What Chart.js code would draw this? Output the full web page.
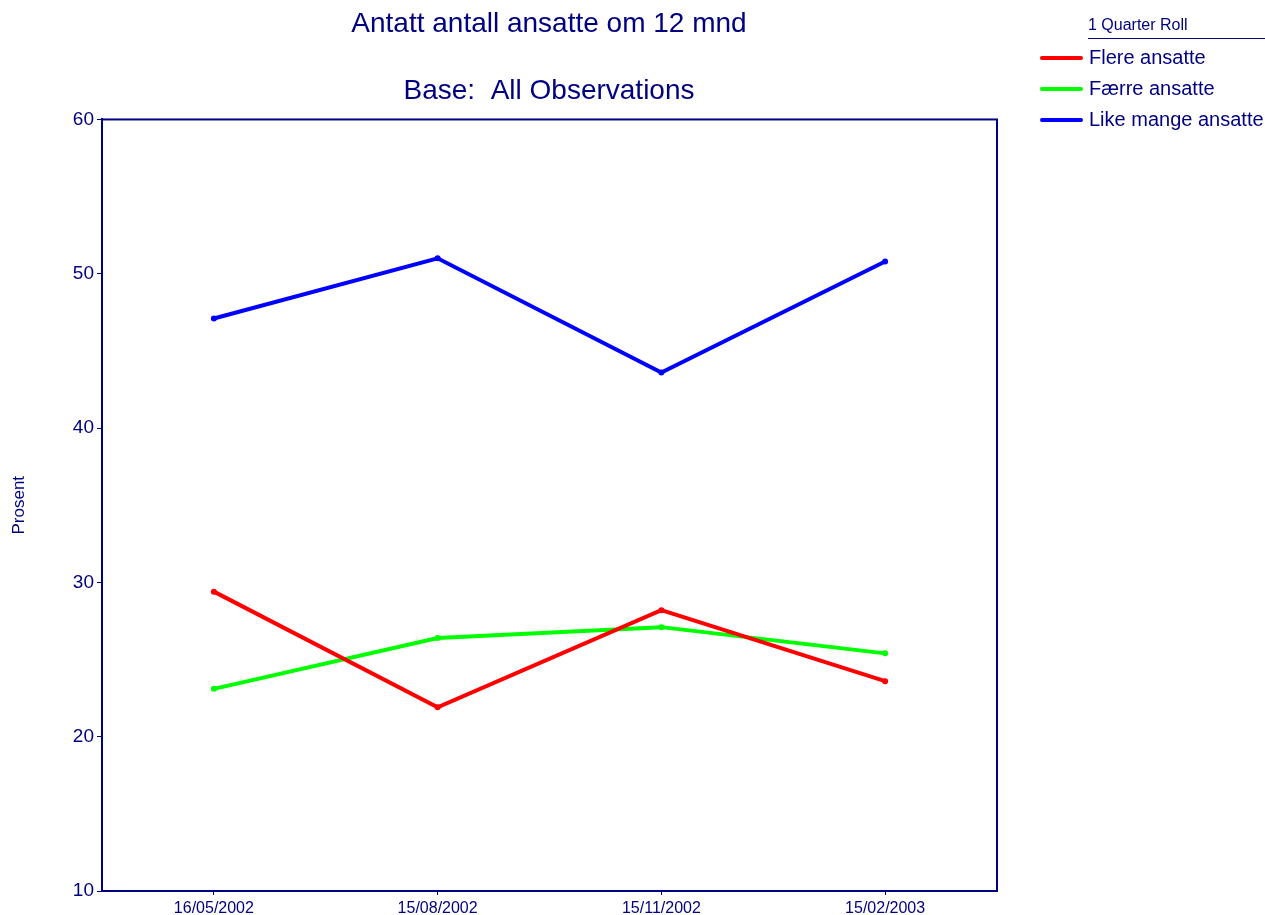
<!DOCTYPE html>
<html>
<head>
<meta charset="utf-8">
<script src="https://cdn.jsdelivr.net/npm/chart.js@4"></script>
<style>
  body { margin: 0; background: #fff; }
  #wrap { position: relative; width: 1265px; height: 915px; font-family: "Liberation Sans", Arial, sans-serif; color: #000080; }
  #legend { position: absolute; left: 1040px; top: 14px; width: 225px; }
  #legend .head { margin-left: 48px; font-size: 16px; height: 24px; line-height: 21px; border-bottom: 1px solid #000080; margin-bottom: 3px; }
  #legend .item { display: flex; align-items: center; height: 31px; font-size: 20px; }
  #legend .swatch { width: 43px; height: 4px; border-radius: 2px; margin-right: 6px; }
</style>
</head>
<body>
<div id="wrap">
  <canvas id="chart" width="1265" height="915"></canvas>
  <div id="legend"><div class="head">1 Quarter Roll</div></div>
</div>
<script>
const categories = ["16/05/2002", "15/08/2002", "15/11/2002", "15/02/2003"];
const flere = [29.4, 21.9, 28.2, 23.6];
const faerre = [23.1, 26.4, 27.1, 25.4];
const likeMange = [47.1, 51.0, 43.6, 50.8];
const seriesNames = ["Flere ansatte", "Færre ansatte", "Like mange ansatte"];
const seriesColors = ["#ff0000", "#00ff00", "#0000ff"];

const navy = "#000080";
const fontFamily = "'Liberation Sans', Arial, sans-serif";

function makeSet(i, values) {
    return {
        label: seriesNames[i],
        data: values,
        borderColor: seriesColors[i],
        backgroundColor: seriesColors[i],
        borderWidth: 4,
        pointRadius: 3,
        pointHoverRadius: 3,
        pointBorderWidth: 0,
        tension: 0
    };
}

// box around the plot area
const frame = {
    id: "frame",
    afterDraw(chart) {
        const a = chart.chartArea;
        const ctx = chart.ctx;
        ctx.save();
        ctx.strokeStyle = navy;
        ctx.lineWidth = 2;
        ctx.strokeRect(a.left, a.top, a.right - a.left, a.bottom - a.top);
        ctx.restore();
    }
};

new Chart(document.getElementById("chart"), {
    type: "line",
    data: {
        labels: categories,
        datasets: [makeSet(0, flere), makeSet(1, faerre), makeSet(2, likeMange)]
    },
    options: {
        responsive: false,
        animation: false,
        layout: { padding: { left: 0, right: 167, top: 0, bottom: 0 } },
        plugins: {
            legend: { display: false },
            tooltip: { enabled: false },
            title: {
                display: true,
                text: ["Antatt antall ansatte om 12 mnd", "", "Base:  All Observations"],
                color: navy,
                font: { family: fontFamily, size: 28, weight: "normal", lineHeight: 1.196 },
                padding: { top: 8, bottom: 11 }
            }
        },
        scales: {
            x: {
                offset: true,
                grid: { display: true, drawOnChartArea: false, drawTicks: true, tickLength: 4, color: navy, offset: false },
                border: { color: navy, width: 2 },
                ticks: { color: navy, font: { family: fontFamily, size: 16 }, padding: 4, maxRotation: 0 },
                afterFit(scale) { scale.height = 24; }
            },
            y: {
                min: 10,
                max: 60,
                ticks: { stepSize: 10, color: navy, font: { family: fontFamily, size: 19 }, padding: 3 },
                grid: { display: true, drawOnChartArea: false, drawTicks: true, tickLength: 5, color: navy },
                border: { color: navy, width: 2 },
                title: { display: true, text: "Prosent", color: navy, font: { family: fontFamily, size: 17 }, padding: { top: 9, bottom: 0 } },
                afterFit(scale) { scale.width = 102; }
            },
            yRight: {
                position: "right",
                display: true,
                ticks: { display: false },
                grid: { display: false },
                border: { display: false },
                afterFit(scale) { scale.width = 101; }
            }
        }
    },
    plugins: [frame]
});

const legend = document.getElementById("legend");
seriesNames.forEach((name, i) => {
    const row = document.createElement("div");
    row.className = "item";
    const sw = document.createElement("span");
    sw.className = "swatch";
    sw.style.background = seriesColors[i];
    const txt = document.createElement("span");
    txt.textContent = name;
    row.appendChild(sw);
    row.appendChild(txt);
    legend.appendChild(row);
});
</script>
</body>
</html>
